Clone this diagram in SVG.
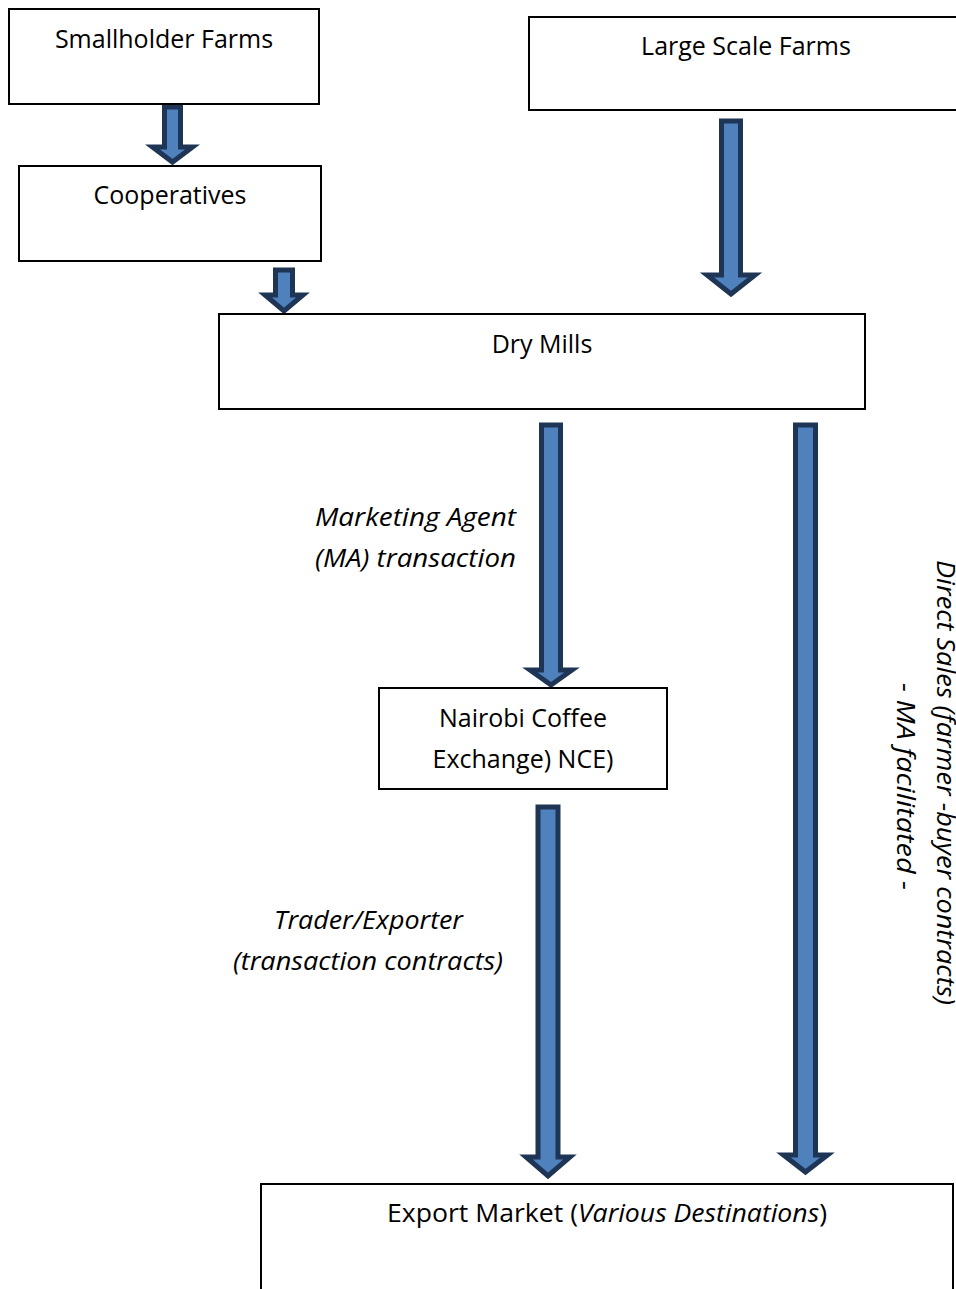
<svg xmlns="http://www.w3.org/2000/svg" width="956" height="1289" viewBox="0 0 956 1289">
<style>
.box{fill:#fff;stroke:#000;stroke-width:2}
.t{font-family:"Open Sans","Liberation Sans",sans-serif;font-size:25px;fill:#000;text-anchor:middle}
.i{font-family:"Open Sans","Liberation Sans",sans-serif;font-size:25px;font-style:italic;fill:#000}
.arr{fill:#4F81BD;stroke:#1F3556;stroke-width:5;stroke-linejoin:miter}
</style>
<rect width="956" height="1289" fill="#fff"/>
<g id="connectors">
<polygon class="arr" points="164.5,107 180.5,107 180.5,147 192.5,147 172.5,162 152.5,147 164.5,147"/>
<polygon class="arr" points="275.5,270 292.5,270 292.5,295 303,295 284,311 265,295 275.5,295"/>
<polygon class="arr" points="721.5,121 740.5,121 740.5,275 755,275 731,294 707,275 721.5,275"/>
<polygon class="arr" points="541.5,425 560.5,425 560.5,670 572,670 551,685 530,670 541.5,670"/>
<polygon class="arr" points="795.5,425 815.5,425 815.5,1155 827.5,1155 805.5,1172 783.5,1155 795.5,1155"/>
<polygon class="arr" points="538,807 558,807 558,1157 570,1157 548,1176 526,1157 538,1157"/>
</g>
<g id="smallholder">
<rect class="box" x="9" y="9" width="310" height="95"/>
<text class="t" x="164" y="48">Smallholder Farms</text>
</g>
<g id="large">
<rect class="box" x="529" y="17" width="440" height="93"/>
<text class="t" x="746" y="55">Large Scale Farms</text>
</g>
<g id="cooperatives">
<rect class="box" x="19" y="166" width="302" height="95"/>
<text class="t" x="170" y="204">Cooperatives</text>
</g>
<g id="drymills">
<rect class="box" x="219" y="314" width="646" height="95"/>
<text class="t" x="542" y="353">Dry Mills</text>
</g>
<g id="nce">
<rect class="box" x="379" y="688" width="288" height="101"/>
<text class="t" x="523" y="727">Nairobi Coffee</text>
<text class="t" x="523" y="768">Exchange) NCE)</text>
</g>
<g id="export">
<rect class="box" x="261" y="1184" width="692" height="120"/>
<text class="t" x="607" y="1222" textLength="440" lengthAdjust="spacingAndGlyphs">Export Market (<tspan font-style="italic">Various Destinations</tspan>)</text>
</g>
<g id="labels">
<text class="i" x="315" y="526" textLength="201" lengthAdjust="spacingAndGlyphs">Marketing Agent</text>
<text class="i" x="315" y="567" textLength="201" lengthAdjust="spacingAndGlyphs">(MA) transaction</text>
<text class="i" x="274" y="929" textLength="189" lengthAdjust="spacingAndGlyphs">Trader/Exporter</text>
<text class="i" x="233" y="970" textLength="270" lengthAdjust="spacingAndGlyphs">(transaction contracts)</text>
<text class="i" transform="translate(937,560) rotate(90)" textLength="445" lengthAdjust="spacingAndGlyphs">Direct Sales (farmer -buyer contracts)</text>
<text class="i" transform="translate(897,683) rotate(90)" textLength="207" lengthAdjust="spacingAndGlyphs">- MA facilitated -</text>
</g>
</svg>
